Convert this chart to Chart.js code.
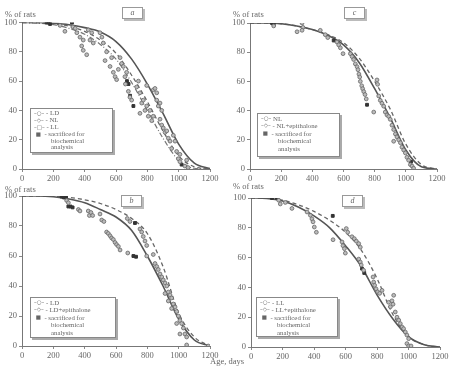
<!DOCTYPE html>
<html>
<head>
<meta charset="utf-8">
<script src="https://cdn.jsdelivr.net/npm/chart.js@4.4.1/dist/chart.umd.min.js"></script>
<style>
  body { margin: 0; background: #fff; width: 454px; height: 367px; position: relative; overflow: hidden;
         font-family: "Liberation Serif", "DejaVu Serif", serif; color: #666; }
  canvas { position: absolute; }
  .t { position: absolute; font-size: 8.5px; white-space: nowrap; }
  .tag { position: absolute; width: 19px; height: 10px; border: 1px solid #999; box-shadow: 2px 2px 0 #bbb;
         font-style: italic; font-size: 8px; text-align: center; line-height: 10px; background: #fff; }
  .leg { position: absolute; border: 1px solid #888; box-shadow: 2px 2px 0 #aaa; background: #fff;
         font-size: 6.8px; padding: 1px 3px; white-space: nowrap; box-sizing: border-box; }
  .leg div { height: 7.4px; line-height: 7.4px; overflow: visible; }
  .leg.six div { height: 6.9px; line-height: 6.9px; }
  .leg .i { padding-left: 17px; }
  .leg .m { font-family: "DejaVu Sans", sans-serif; font-size: 5.5px; line-height: 6px; vertical-align: top; }
</style>
</head>
<body>
<canvas id="pa" width="227" height="187" style="left:0;top:0"></canvas>
<canvas id="pc" width="227" height="187" style="left:227px;top:0"></canvas>
<canvas id="pb" width="227" height="187" style="left:0;top:180px"></canvas>
<canvas id="pd" width="227" height="187" style="left:227px;top:180px"></canvas>

<div class="t" style="left:5px;top:9px">% of rats</div>
<div class="t" style="left:233px;top:9px">% of rats</div>
<div class="t" style="left:5px;top:184px">% of rats</div>
<div class="t" style="left:233px;top:181px">% of rats</div>
<div class="t" style="left:210px;top:356px">Age, days</div>

<div class="tag" style="left:122px;top:7px">a</div>
<div class="tag" style="left:344px;top:7px">c</div>
<div class="tag" style="left:121px;top:195px">b</div>
<div class="tag" style="left:342px;top:195px">d</div>

<div class="leg six" style="left:30px;top:108px;width:83px;height:45px">
  <div><span class="m">–○–</span> - LD</div>
  <div><span class="m">–◇–</span> - NL</div>
  <div><span class="m">–□–</span> - LL</div>
  <div><span class="m">&nbsp;■&nbsp;</span> - sacrificed for</div>
  <div class="i">biochemical</div>
  <div class="i">analysis</div>
</div>
<div class="leg" style="left:257px;top:113px;width:83px;height:44px">
  <div><span class="m">–○–</span> NL</div>
  <div><span class="m">–◇–</span> - NL+epithalone</div>
  <div><span class="m">&nbsp;■&nbsp;</span> - sacrificed for</div>
  <div class="i">biochemical</div>
  <div class="i">analysis</div>
</div>
<div class="leg" style="left:30px;top:297px;width:86px;height:41px">
  <div><span class="m">–○–</span> - LD</div>
  <div><span class="m">–◇–</span> - LD+epithalone</div>
  <div><span class="m">&nbsp;■&nbsp;</span> - sacrificed for</div>
  <div class="i">biochemical</div>
  <div class="i">analysis</div>
</div>
<div class="leg" style="left:256px;top:297px;width:82px;height:40px">
  <div><span class="m">–○–</span> - LL</div>
  <div><span class="m">–◇–</span> - LL+epithalone</div>
  <div><span class="m">&nbsp;■&nbsp;</span> - sacrificed for</div>
  <div class="i">biochemical</div>
  <div class="i">analysis</div>
</div>

<script>
// ages (days) at which the fitted survival curves are read
const curveDays = [0, 100, 200, 300, 400, 500, 600, 700, 800, 900, 1000, 1100, 1200];

// panel a: LD, NL, LL
const aLD = [100, 100, 99.5, 98.5, 96.5, 93.5, 87, 75, 58, 38, 17, 4, 0.3];
const aNL = [100, 99.8, 99, 97.5, 94, 88, 79, 64, 46, 26, 9, 1.5, 0];
const aLL = [100, 99.5, 98.5, 96, 92, 85, 75, 59, 40, 21, 6, 0.5, 0];
const aPoints = [[243,98],[274,94],[325,97],[340,96],[350,93],[370,90],[391,88],[381,84],[391,81],[413,78],
  [423,95],[434,88],[445,93],[455,86],[498,93],[519,86],[510,90],[530,74],[540,80],[562,70],[572,76],[583,66],
  [594,63],[604,61],[615,68],[626,76],[636,72],[647,70],[657,63],[668,66],[679,53],[689,49],[700,47],[660,58],
  [732,56],[743,60],[753,52],[753,38],[764,45],[774,47],[785,40],[796,43],[796,57],[806,36],[817,40],[828,33],
  [838,36],[838,54],[849,55],[860,52],[860,47],[870,43],[881,34],[881,45],[892,30],[892,40],[902,28],[913,25],
  [924,26],[934,21],[945,19],[955,14],[966,23],[977,19],[987,12],[998,7],[1008,5],[1008,10],[1040,2],[1051,6],[1060,1]];
const aSacrificed = [[157,100],[168,100],[179,99],[319,100],[670,60],[680,58],[690,50],[711,43],[1019,3]];

// panel c: NL, NL+epithalone
const cNL = [100, 100, 99.5, 98, 95.5, 91.5, 85, 73, 55, 35, 13, 1.5, 0];
const cNLE = [100, 100, 99.5, 98, 95.5, 92, 86.5, 76, 60, 41, 17, 3, 0];
const cPoints = [[152,98],[302,94],[334,100],[340,97],[334,95],[451,95],[483,92],[499,90],[558,87],[569,85],
  [580,83],[597,79],[644,79],[655,77],[665,75],[676,72],[687,70],[693,68],[699,65],[704,63],[708,60],[717,57],
  [723,55],[730,53],[738,51],[746,48],[794,39],[815,61],[819,58],[826,50],[836,47],[847,45],[858,43],[868,39],
  [879,37],[890,36],[900,34],[911,30],[922,27],[933,24],[922,19],[943,22],[954,20],[965,18],[975,15],[986,13],
  [997,11],[1007,8],[1018,6],[1029,3],[1040,2],[1050,0.5]];
const cSacrificed = [[141,100],[152,99],[537,88],[751,44],[1033,5]];

// panel b: LD, LD+epithalone
const bLD = [100, 100, 99.5, 98, 95.5, 91, 86, 77, 60, 40, 18, 4, 0];
const bLDE = [100, 100, 99.8, 99, 97.5, 95, 91, 85, 75, 53, 22, 6, 0];
const bPoints = [[285,97],[296,95.5],[360,91],[370,90],[423,90],[430,87],[440,89],[451,87],[498,88],[509,84],
  [523,83],[540,76],[551,75],[562,73.5],[572,72],[583,71],[594,69],[604,67.6],[615,66.4],[626,64],[675,62],
  [672,85],[689,83],[753,78],[764,76],[774,73],[785,70],[796,67],[796,60],[838,61],[849,55],[860,53],[870,51],
  [881,48],[892,46],[902,44],[913,42],[924,40],[934,36],[945,34],[955,32],[966,28],[977,26],[987,23],[998,20],
  [1008,17],[1019,15],[1030,12],[1040,8],[1051,6],[934,30],[955,25],[987,15],[913,35],[1008,8],[1051,0.7],[1189,0]];
const bSacrificed = [[253,99.6],[268,99],[281,99.6],[296,93],[310,93],[323,92.4],[711,60],[728,59.5],[721,82]];

// panel d: LL, LL+epithalone
const dLL = [100, 99.7, 98, 94, 88, 80, 68, 54, 35, 19, 7, 1.5, 0];
const dLLE = [100, 99.8, 98.5, 95.5, 91, 85, 77, 65, 46, 22, 7, 1.5, 0];
const dPoints = [[176,98.5],[186,96],[218,97],[260,93],[356,90.6],[377,88.4],[387,86],[394,84],[402,80.5],
  [415,77],[521,72],[578,70.5],[584,68],[593,66],[599,63],[605,79.5],[614,77],[641,74],[656,72.7],[669,71],
  [684,69.4],[694,67],[684,59],[694,57],[700,55],[715,51.5],[775,47],[779,43.6],[785,41.4],[794,39],[804,37],
  [817,36],[832,38],[874,30],[885,27],[895,31],[906,34.7],[902,28.7],[916,23.5],[927,20],[938,18],[948,15.7],
  [959,13.4],[969,12.3],[980,10],[990,8],[1001,5.6],[990,2.3],[1001,0.7],[1016,0.7]];
const dSacrificed = [[133,100],[165,100],[519,88],[705,52.6],[719,49.7]];

const solid = { borderColor: '#555', borderWidth: 1.6 };
const dashed = { borderColor: '#666', borderWidth: 1.3, borderDash: [4, 3] };
const dotted = { borderColor: '#777', borderWidth: 1.2, borderDash: [5, 2, 1, 2] };

function curve(values, style) {
  return Object.assign({
    type: 'line',
    data: curveDays.map((d, i) => ({ x: d, y: values[i] })),
    pointRadius: 0,
    cubicInterpolationMode: 'monotone',
    fill: false
  }, style);
}

function scatter(points, sacrificed) {
  return [
    {
      type: 'scatter',
      data: points.map(p => ({ x: p[0], y: p[1] })),
      pointRadius: 1.9,
      pointBackgroundColor: '#bbb',
      pointBorderColor: '#666',
      pointBorderWidth: 0.8
    },
    {
      type: 'scatter',
      data: sacrificed.map(p => ({ x: p[0], y: p[1] })),
      pointStyle: 'rect',
      pointRadius: 2,
      pointBackgroundColor: '#333',
      pointBorderColor: '#333'
    }
  ];
}

function panel(id, area, datasets) {
  new Chart(document.getElementById(id), {
    data: { datasets: datasets },
    options: {
      responsive: false,
      animation: false,
      layout: { padding: { left: 0, right: 227 - area.right, top: area.top, bottom: 0 } },
      plugins: { legend: { display: false }, tooltip: { enabled: false } },
      scales: {
        x: {
          type: 'linear', min: 0, max: 1200,
          ticks: { stepSize: 200, maxRotation: 0, autoSkip: false, color: '#666', padding: 2,
                   font: { family: 'Liberation Serif', size: 8.5 }, callback: v => String(v) },
          grid: { drawOnChartArea: false, tickLength: 3, color: '#888' },
          border: { color: '#777', width: 1 },
          afterFit: s => { s.height = 187 - area.bottom; }
        },
        y: {
          min: 0, max: 100,
          ticks: { stepSize: 20, color: '#666', padding: 2,
                   font: { family: 'Liberation Serif', size: 8.5 } },
          grid: { drawOnChartArea: false, tickLength: 3, color: '#888' },
          border: { color: '#777', width: 1 },
          afterFit: s => { s.width = area.left; }
        }
      }
    }
  });
}

panel('pa', { left: 22, right: 210, top: 22.5, bottom: 169 },
  [...scatter(aPoints, aSacrificed), curve(aLD, solid), curve(aNL, dashed), curve(aLL, dotted)]);
panel('pc', { left: 23, right: 210, top: 23, bottom: 169 },
  [...scatter(cPoints, cSacrificed), curve(cNL, solid), curve(cNLE, dashed)]);
panel('pb', { left: 22, right: 210, top: 16, bottom: 166 },
  [...scatter(bPoints, bSacrificed), curve(bLD, solid), curve(bLDE, dashed)]);
panel('pd', { left: 24, right: 213, top: 18, bottom: 167 },
  [...scatter(dPoints, dSacrificed), curve(dLL, solid), curve(dLLE, dashed)]);
</script>
</body>
</html>
